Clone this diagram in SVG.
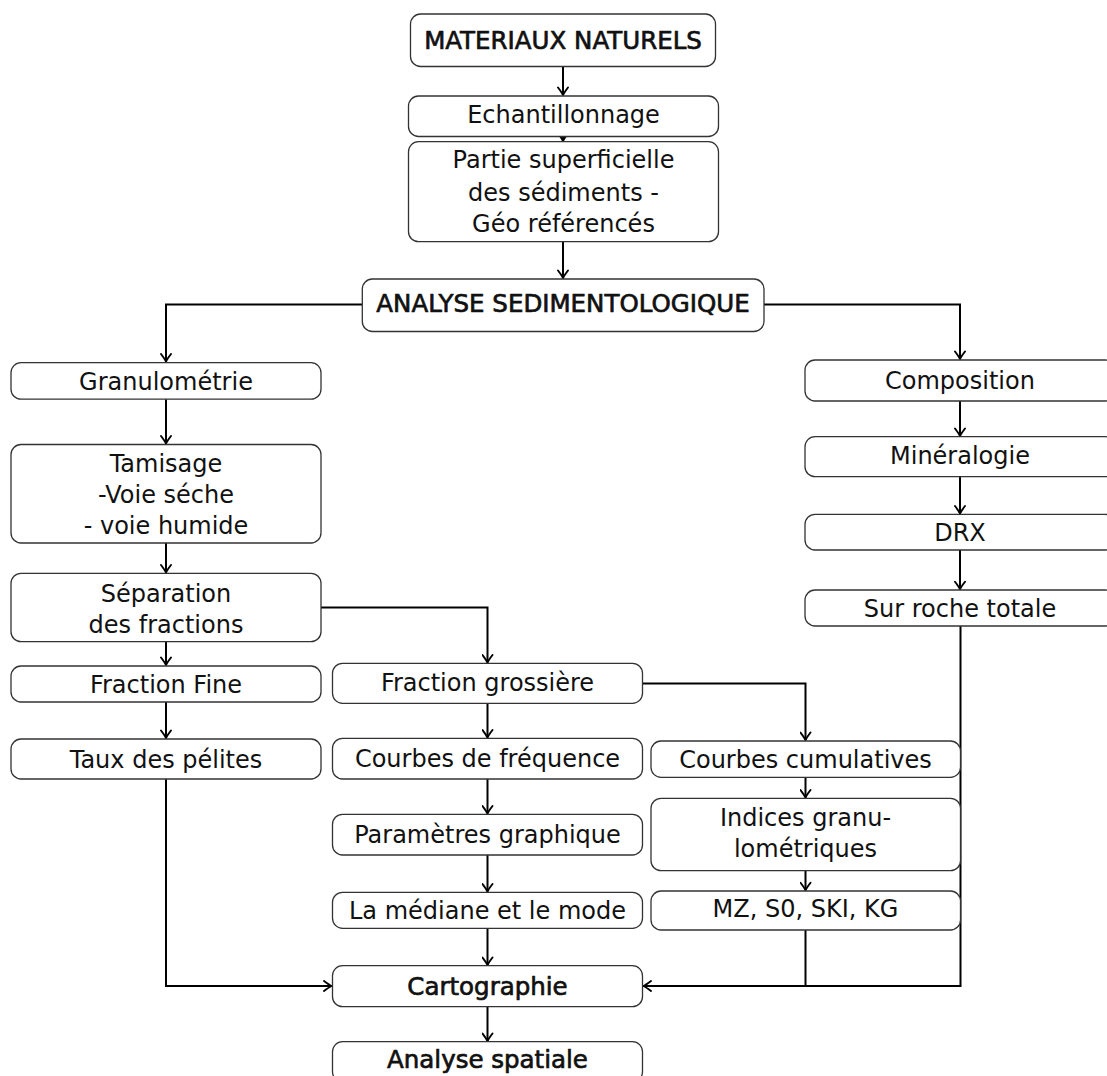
<svg xmlns="http://www.w3.org/2000/svg" width="1107" height="1076" viewBox="0 0 1107 1076">
<style>
.box{fill:#fff;stroke:#333;stroke-width:1.3}
.t{font-family:"DejaVu Sans",sans-serif;font-size:24px;fill:#111;text-anchor:middle}
.b{font-size:24.5px;stroke:#111;stroke-width:0.7;stroke-linejoin:round;paint-order:stroke fill}
.c{fill:none;stroke:#000;stroke-width:2}
</style>
<defs>
<marker id="arr" viewBox="-9 -6 10 12" refX="0" refY="0" markerWidth="10" markerHeight="12" markerUnits="userSpaceOnUse" orient="auto">
<path d="M-7.5,-5 Q-2.5,-1.2 0,0 Q-2.5,1.2 -7.5,5" fill="none" stroke="#000" stroke-width="1.9" stroke-linecap="round" stroke-linejoin="round"/>
</marker>
</defs>
<rect width="1107" height="1076" fill="#fff"/>
<g id="connectors">
<path class="c" d="M563,66.5 V95" marker-end="url(#arr)"/>
<path class="c" d="M563,136.5 V141" marker-end="url(#arr)"/>
<path class="c" d="M563,241.7 V278" marker-end="url(#arr)"/>
<path class="c" d="M362.3,304.5 H166 V361.5" marker-end="url(#arr)"/>
<path class="c" d="M764,304.5 H960 V359" marker-end="url(#arr)"/>
<path class="c" d="M166,399 V443.5" marker-end="url(#arr)"/>
<path class="c" d="M166,543 V572.5" marker-end="url(#arr)"/>
<path class="c" d="M321,607.5 H487.5 V662.5" marker-end="url(#arr)"/>
<path class="c" d="M166,641.7 V665" marker-end="url(#arr)"/>
<path class="c" d="M166,702 V738" marker-end="url(#arr)"/>
<path class="c" d="M166,779 V986 H331.5" marker-end="url(#arr)"/>
<path class="c" d="M487.5,703.3 V737.5" marker-end="url(#arr)"/>
<path class="c" d="M487.5,779 V813.5" marker-end="url(#arr)"/>
<path class="c" d="M487.5,855 V891.5" marker-end="url(#arr)"/>
<path class="c" d="M487.5,928.3 V965" marker-end="url(#arr)"/>
<path class="c" d="M487.5,1006.7 V1041" marker-end="url(#arr)"/>
<path class="c" d="M642.5,683.5 H805.5 V740" marker-end="url(#arr)"/>
<path class="c" d="M805.5,777.3 V797.5" marker-end="url(#arr)"/>
<path class="c" d="M805.5,870.7 V890.2" marker-end="url(#arr)"/>
<path class="c" d="M805.5,930 V986"/>
<path class="c" d="M960,401 V436" marker-end="url(#arr)"/>
<path class="c" d="M960,476.7 V513.5" marker-end="url(#arr)"/>
<path class="c" d="M960,550 V589.2" marker-end="url(#arr)"/>
<path class="c" d="M960.5,626 V986 H643.5" marker-end="url(#arr)"/>
</g>
<g id="n1"><rect class="box" x="410.5" y="14" width="305" height="52.5" rx="10"/><text class="t b" x="563" y="49">MATERIAUX NATURELS</text></g>
<g id="n2"><rect class="box" x="408.5" y="96" width="310" height="40.5" rx="10"/><text class="t" x="563.5" y="123">Echantillonnage</text></g>
<g id="n3"><rect class="box" x="408.5" y="141.7" width="310" height="100" rx="10"/><text class="t" x="563.5" y="168">Partie superficielle</text><text class="t" x="563.5" y="200.5">des sédiments -</text><text class="t" x="563.5" y="231.5">Géo référencés</text></g>
<g id="n4"><rect class="box" x="362.3" y="279" width="401.7" height="52.5" rx="10"/><text class="t b" x="563" y="312">ANALYSE SEDIMENTOLOGIQUE</text></g>
<g id="n5"><rect class="box" x="11" y="362.7" width="310" height="36.5" rx="10"/><text class="t" x="166" y="389.5">Granulométrie</text></g>
<g id="n6"><rect class="box" x="11" y="444.5" width="310" height="98.5" rx="10"/><text class="t" x="166" y="471.5">Tamisage</text><text class="t" x="166" y="503">-Voie séche</text><text class="t" x="166" y="534">- voie humide</text></g>
<g id="n7"><rect class="box" x="11" y="573.3" width="310" height="68.4" rx="10"/><text class="t" x="166" y="601.5">Séparation</text><text class="t" x="166" y="632.5">des fractions</text></g>
<g id="n8"><rect class="box" x="11" y="666" width="310" height="36" rx="10"/><text class="t" x="166" y="692.5">Fraction Fine</text></g>
<g id="n9"><rect class="box" x="11" y="739" width="310" height="40" rx="10"/><text class="t" x="166" y="767.5">Taux des pélites</text></g>
<g id="n10"><rect class="box" x="805" y="360" width="310" height="41" rx="10"/><text class="t" x="960" y="388.5">Composition</text></g>
<g id="n11"><rect class="box" x="805" y="436.7" width="310" height="40" rx="10"/><text class="t" x="960" y="464">Minéralogie</text></g>
<g id="n12"><rect class="box" x="805" y="514.3" width="310" height="35.7" rx="10"/><text class="t" x="960" y="541">DRX</text></g>
<g id="n13"><rect class="box" x="805" y="590" width="310" height="36" rx="10"/><text class="t" x="960" y="617">Sur roche totale</text></g>
<g id="n14"><rect class="box" x="332.5" y="663.3" width="310" height="40" rx="10"/><text class="t" x="487.5" y="691">Fraction grossière</text></g>
<g id="n15"><rect class="box" x="332.5" y="738.3" width="310" height="40.7" rx="10"/><text class="t" x="487.5" y="767">Courbes de fréquence</text></g>
<g id="n16"><rect class="box" x="651" y="741" width="309.5" height="36.3" rx="10"/><text class="t" x="805.5" y="768">Courbes cumulatives</text></g>
<g id="n17"><rect class="box" x="332.5" y="814.3" width="310" height="40.7" rx="10"/><text class="t" x="487.5" y="843">Paramètres graphique</text></g>
<g id="n18"><rect class="box" x="651" y="798.3" width="309.5" height="72.4" rx="10"/><text class="t" x="805.5" y="825.5">Indices granu-</text><text class="t" x="805.5" y="857">lométriques</text></g>
<g id="n19"><rect class="box" x="332.5" y="892.3" width="310" height="36" rx="10"/><text class="t" x="487.5" y="918.5">La médiane et le mode</text></g>
<g id="n20"><rect class="box" x="651" y="891" width="309.5" height="39" rx="10"/><text class="t" x="805.5" y="917">MZ, S0, SKI, KG</text></g>
<g id="n21"><rect class="box" x="332.5" y="965.7" width="310" height="41" rx="10"/><text class="t b" x="487.5" y="994.5">Cartographie</text></g>
<g id="n22"><rect class="box" x="332.5" y="1041.7" width="310" height="40" rx="10"/><text class="t b" x="487.5" y="1067.5">Analyse spatiale</text></g>
</svg>
